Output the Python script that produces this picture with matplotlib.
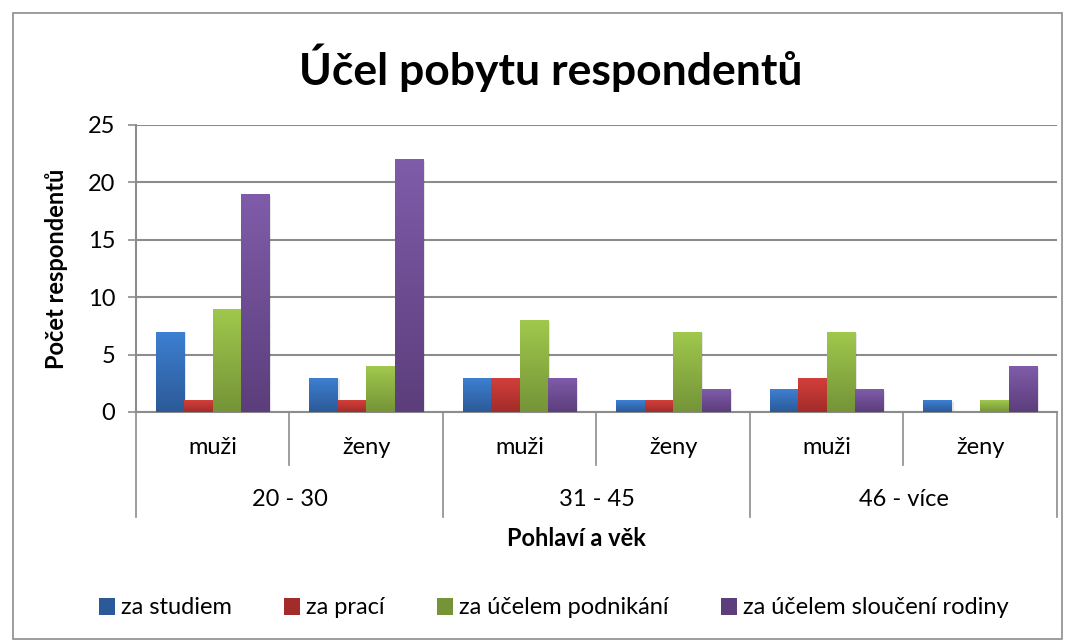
import numpy as np
import matplotlib.pyplot as plt
from matplotlib.patches import Rectangle, Patch
from matplotlib.colors import LinearSegmentedColormap
import matplotlib.transforms as mtransforms

plt.rcParams['font.family'] = ['Lato', 'DejaVu Sans']

# data
gender = ['muži', 'ženy', 'muži', 'ženy', 'muži', 'ženy']
age_groups = ['20 - 30', '31 - 45', '46 - více']
series = ['za studiem', 'za prací', 'za účelem podnikání', 'za účelem sloučení rodiny']
studiem = [7, 3, 3, 1, 2, 1]
praci = [1, 1, 3, 1, 3, 0]
podnikani = [9, 4, 8, 7, 7, 1]
rodina = [19, 22, 3, 2, 2, 4]
yticks = [0, 5, 10, 15, 20, 25]

values = [studiem, praci, podnikani, rodina]
# (top colour, bottom colour) for the Excel-like gradient
colors = [('#3d80d2', '#2c5a98'), ('#d43f3b', '#a22c29'),
          ('#a0c84c', '#759438'), ('#7f5ca9', '#5c3e7c')]

fig = plt.figure(figsize=(10.75, 6.42), dpi=100)
ax = fig.add_axes([0.1265, 0.3583, 0.8567, 0.447])

x = np.arange(len(gender))
w = 0.185
grad = np.linspace(1, 0, 64).reshape(-1, 1)

for i, (vals, (ctop, cbot)) in enumerate(zip(values, colors)):
    cmap = LinearSegmentedColormap.from_list('g%d' % i, [cbot, ctop])
    pos = x + (i - 1.5) * w
    bars = ax.bar(pos, vals, w, color=ctop, zorder=3, linewidth=0)
    for b in bars:
        h = b.get_height()
        if h <= 0:
            continue
        # soft shadow
        ax.add_patch(Rectangle((b.get_x() + 0.012, 0), w, h - 0.15, color='black',
                               alpha=0.10, zorder=2, linewidth=0))
        im = ax.imshow(grad, cmap=cmap, aspect='auto', zorder=4,
                       extent=[b.get_x(), b.get_x() + w, 0, h], interpolation='bicubic')
        im.set_clip_path(b)

ax.set_xlim(-0.5, 5.5)
ax.set_ylim(0, 25)
ax.set_yticks(yticks)
ax.yaxis.grid(True, color='#8c8c8c', linewidth=1.5, zorder=1)
ax.set_axisbelow(True)
ax.tick_params(axis='y', labelsize=17, length=6, width=1.2, color='#8c8c8c', pad=9)
ax.set_xticks([])
for s in ['top', 'right']:
    ax.spines[s].set_visible(False)
ax.spines['left'].set_color('#8c8c8c')
ax.spines['left'].set_linewidth(1.5)
ax.spines['bottom'].set_color('#8c8c8c')
ax.spines['bottom'].set_linewidth(1.5)

# two-level category axis
trans = mtransforms.blended_transform_factory(ax.transData, ax.transAxes)
for k in range(len(gender) + 1):
    xs = k - 0.5
    depth = -0.366 if k % 2 == 0 else -0.185
    ax.plot([xs, xs], [0, depth], transform=trans, color='#8c8c8c',
            linewidth=1.2, clip_on=False)
for k, g in enumerate(gender):
    ax.text(k, -0.125, g, transform=trans, ha='center', va='center', fontsize=17)
for k, a in enumerate(age_groups):
    ax.text(2 * k + 0.5, -0.305, a, transform=trans, ha='center', va='center', fontsize=17)

ax.set_ylabel('Počet respondentů', fontsize=17, fontweight='bold', labelpad=14)
fig.text(0.5365, 1 - 538 / 642, 'Pohlaví a věk', ha='center', va='center',
         fontsize=17, fontweight='bold')
fig.text(0.512, 1 - 68 / 642, 'Účel pobytu respondentů', ha='center', va='center',
         fontsize=32, fontweight='bold')

handles = [Patch(facecolor=c[1], edgecolor='none') for c in colors]
fig.legend(handles, series, loc='center', bbox_to_anchor=(0.515, 1 - 608 / 642),
           ncol=4, frameon=False, fontsize=17, handlelength=0.7, handleheight=0.7,
           handletextpad=0.25, columnspacing=2.2)

# chart border
fig.add_artist(Rectangle((13 / 1075, 0.004), 1049 / 1075, 1 - 13 / 642 - 0.004,
                         transform=fig.transFigure, fill=False,
                         edgecolor='#8c8c8c', linewidth=1.2))

fig.savefig('out.png', dpi=100)
